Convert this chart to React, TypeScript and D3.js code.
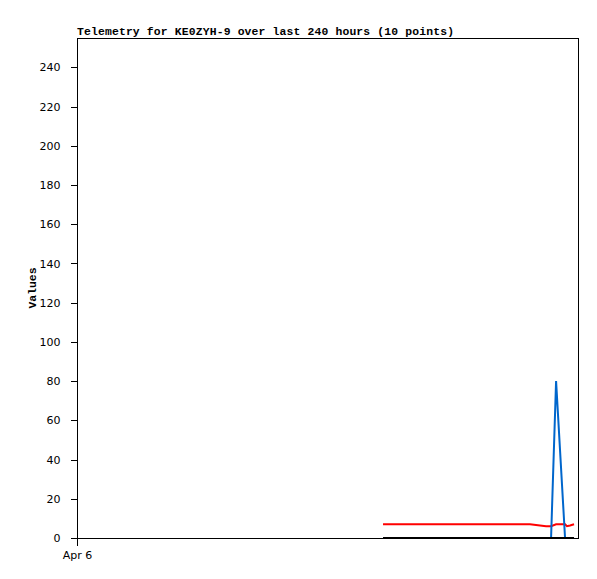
import { useEffect, useRef } from 'react';
import * as d3 from 'd3';

// hours since Apr 6 00:00 for each sample
const hours = [146.6, 217.0, 221.8, 224.7, 227.1, 229.5, 233.8, 234.7, 236.2, 238.1];
const redValues = [7.0, 7.0, 6.4, 6.0, 6.0, 7.0, 7.0, 6.0, 6.4, 7.0];
const blueValues = [0, 0, 0, 0, 0, 80, 0, 0, 0, 0];
const blackValues = [0, 0, 0, 0, 0, 0, 0, 0, 0, 0];
const yTicks = [0, 20, 40, 60, 80, 100, 120, 140, 160, 180, 200, 220, 240];
const xTickLabels = ['Apr 6'];

const startTime = new Date(2024, 3, 6, 0, 0, 0);
const title = 'Telemetry for KE0ZYH-9 over last 240 hours (10 points)';

export default function App() {
  const ref = useRef<SVGSVGElement>(null);

  useEffect(() => {
    if (!ref.current) return;
    const svg = d3.select(ref.current);
    svg.selectAll('*').remove();

    const width = 597;
    const height = 579;
    const margin = { top: 38, right: 19, bottom: 41, left: 77 };
    const innerW = width - margin.left - margin.right;
    const innerH = height - margin.top - margin.bottom;

    const endTime = new Date(startTime.getTime() + 240 * 3600 * 1000);
    const x = d3.scaleTime().domain([startTime, endTime]).range([0, innerW]);
    const y = d3.scaleLinear().domain([0, 255]).range([innerH, 0]);

    const g = svg.append('g').attr('transform', `translate(${margin.left},${margin.top})`);

    // frame
    g.append('rect')
      .attr('x', 0.5)
      .attr('y', 0.5)
      .attr('width', innerW)
      .attr('height', innerH)
      .attr('fill', 'none')
      .attr('stroke', '#000')
      .attr('stroke-width', 1)
      .attr('shape-rendering', 'crispEdges');

    // Y axis
    const yAxis = g.append('g')
      .attr('transform', 'translate(0.5,0)')
      .call(d3.axisLeft(y).tickValues(yTicks).tickSize(7).tickPadding(10));
    yAxis.select('.domain').remove();
    yAxis.selectAll('line').attr('shape-rendering', 'crispEdges');
    yAxis.selectAll('text')
      .attr('font-family', 'DejaVu Sans, sans-serif')
      .attr('font-size', 11)
      .attr('fill', '#000');

    // X axis
    const xAxis = g.append('g')
      .attr('transform', `translate(0,${innerH + 0.5})`)
      .call(
        d3.axisBottom(x)
          .tickValues([startTime])
          .tickFormat((_, i) => xTickLabels[i])
          .tickSize(7)
          .tickPadding(6)
      );
    xAxis.select('.domain').remove();
    xAxis.selectAll('line').attr('shape-rendering', 'crispEdges');
    xAxis.selectAll('text')
      .attr('font-family', 'DejaVu Sans, sans-serif')
      .attr('font-size', 11)
      .attr('fill', '#000');

    const times = hours.map(h => new Date(startTime.getTime() + h * 3600 * 1000));
    const line = d3.line<number>()
      .x((_, i) => x(times[i]))
      .y(d => y(d));

    const series = [
      { values: redValues, color: '#ff0000' },
      { values: blueValues, color: '#0066cc' },
      { values: blackValues, color: '#000000' },
    ];

    series.forEach(s => {
      g.append('path')
        .datum(s.values)
        .attr('d', line)
        .attr('fill', 'none')
        .attr('stroke', s.color)
        .attr('stroke-width', 2);
    });

    // title
    svg.append('text')
      .attr('x', margin.left)
      .attr('y', 35)
      .attr('font-family', 'Liberation Mono, DejaVu Sans Mono, monospace')
      .attr('font-weight', 'bold')
      .attr('font-size', 11.4)
      .attr('textLength', 377)
      .attr('lengthAdjust', 'spacing')
      .text(title);

    // y label
    svg.append('text')
      .attr('transform', `translate(36,${margin.top + innerH / 2}) rotate(-90)`)
      .attr('text-anchor', 'middle')
      .attr('font-family', 'Liberation Mono, DejaVu Sans Mono, monospace')
      .attr('font-weight', 'bold')
      .attr('font-size', 11.4)
      .text('Values');
  }, []);

  return (
    <div style={{ position: 'absolute', top: 0, left: 0 }}>
      <svg ref={ref} width={597} height={579} style={{ display: 'block', background: '#fff' }} />
    </div>
  );
}
